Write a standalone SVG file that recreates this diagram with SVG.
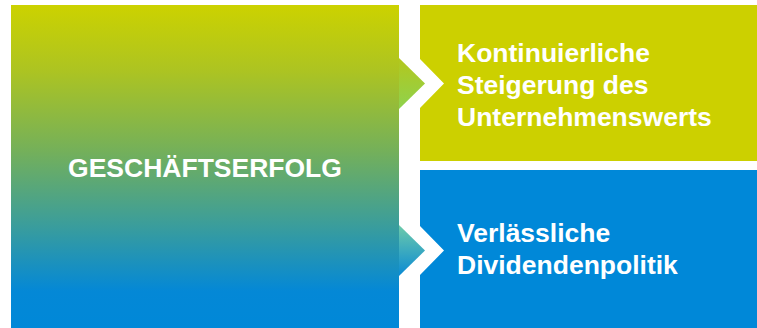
<svg xmlns="http://www.w3.org/2000/svg" width="757" height="328" viewBox="0 0 757 328">
  <defs>
    <linearGradient id="gMain" gradientUnits="userSpaceOnUse" x1="0" y1="5" x2="0" y2="330">
      <stop offset="0" stop-color="#CCD200"/>
      <stop offset="0.2" stop-color="#ADC421"/>
      <stop offset="0.45" stop-color="#74B05A"/>
      <stop offset="0.68" stop-color="#3A9D9C"/>
      <stop offset="0.88" stop-color="#0488D6"/>
      <stop offset="1" stop-color="#0088D8"/>
    </linearGradient>
    <linearGradient id="gTri1" x1="0" y1="0" x2="0" y2="1">
      <stop offset="0" stop-color="#B4C71C"/>
      <stop offset="1" stop-color="#8ED24E"/>
    </linearGradient>
    <linearGradient id="gTri2" x1="0" y1="0" x2="0" y2="1">
      <stop offset="0" stop-color="#6ECBAA"/>
      <stop offset="1" stop-color="#0A8AD4"/>
    </linearGradient>
    <style>
      .lbl { font-family: "Liberation Sans", Arial, sans-serif; font-weight: bold; font-size: 26.5px; fill: #FFFFFF; }
    </style>
  </defs>

  <g id="node-geschaeftserfolg">
    <rect x="11" y="5" width="388" height="325" fill="url(#gMain)"/>
    <text class="lbl" x="205" y="177" text-anchor="middle">GESCHÄFTSERFOLG</text>
  </g>

  <g id="connectors">
    <polygon points="399,58 425,83.5 399,109" fill="url(#gTri1)"/>
    <polygon points="399,225 425,250.5 399,276" fill="url(#gTri2)"/>
  </g>

  <g id="node-unternehmenswert">
    <polygon points="420,5 757,5 757,161 420,161 420,108 444,83.5 420,59" fill="#CCD000"/>
    <text class="lbl" x="457" y="62">Kontinuierliche</text>
    <text class="lbl" x="457" y="94">Steigerung des</text>
    <text class="lbl" x="457" y="126">Unternehmenswerts</text>
  </g>

  <g id="node-dividendenpolitik">
    <polygon points="420,170 757,170 757,330 420,330 420,275 444,250.5 420,226" fill="#0088D8"/>
    <text class="lbl" x="457" y="242">Verlässliche</text>
    <text class="lbl" x="457" y="274">Dividendenpolitik</text>
  </g>
</svg>
